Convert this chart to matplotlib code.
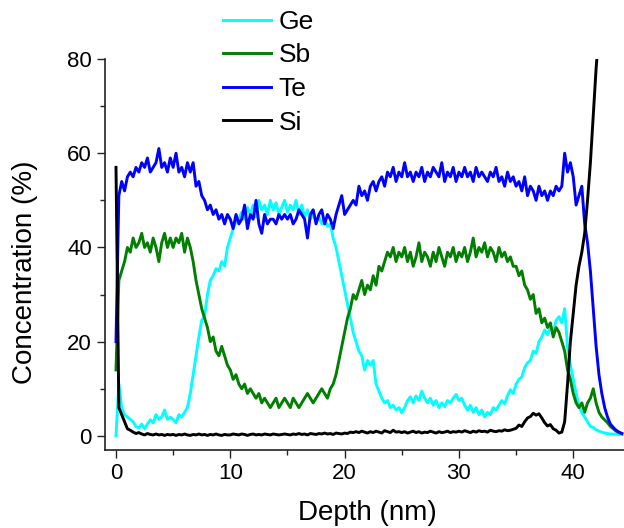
import numpy as np
import matplotlib
matplotlib.use('Agg')
import matplotlib.pyplot as plt
from matplotlib.ticker import MultipleLocator

plt.rcParams['font.family'] = ['Liberation Sans', 'DejaVu Sans']

# depth grid (nm), 0.25 nm steps
depth = np.arange(178) * 0.25

ge = [
    0, 11, 6, 4.5, 4, 3.5, 3, 2, 1.7, 2.5, 1.5, 2.5, 3.4, 2.8, 4.5, 3.5, 4, 5.5, 3.5, 4,
    3.5, 2.8, 4.5, 4, 5, 6, 9, 13, 17, 21, 24.5, 25.5, 30, 33, 34, 35.5, 35, 37, 36, 40,
    42, 44, 45.5, 46, 47.5, 46, 48.5, 47, 49, 46.5, 50, 48, 49, 47, 50, 48, 49.5, 47, 48.5, 50,
    47.5, 49, 48, 50, 47, 49, 46.5, 48, 46, 47.5, 45.5, 46.5, 45, 46, 44.5, 45, 42, 40, 37, 34,
    31, 28, 25, 22, 20, 18, 17, 14, 16, 15, 16, 11, 9.5, 8, 7, 7.5, 6, 6.5, 5.5, 6,
    4.9, 6, 7.5, 8.3, 7, 8.5, 7.5, 9.5, 8, 7, 8, 6.5, 7.5, 6, 7, 6.2, 7.5, 7, 8, 8.8,
    7.5, 8, 6.5, 5.5, 6.5, 5, 6, 4.5, 5.5, 4, 5, 4.5, 6, 5.5, 6.5, 7.5, 6.8, 8.5, 9.8, 9,
    11, 12, 12.5, 14.5, 15.5, 16, 18, 17.5, 20, 21, 22.5, 21.5, 23, 22, 24.5, 25.3, 24, 27, 19, 15,
    12, 9, 6.5, 4.9, 4, 3, 2, 1.8, 1.3, 1, 0.8, 0.6, 0.5, 0.4, 0.4, 0.3, 0.3, 0.3,
]

sb = [
    14, 33, 35, 37, 40, 39, 42, 40, 41, 43, 40, 41, 39, 42, 40, 37, 41, 43, 40, 42,
    40, 42, 41, 43, 39, 42, 40, 37, 33, 30, 27, 25, 23, 20, 21, 18, 17, 19, 17, 15,
    14, 12, 13, 11, 10, 11, 9, 10, 9, 8, 9, 7, 8, 7, 6, 7, 8, 6, 7, 8,
    7, 6, 8, 7, 6, 7, 8, 9, 8, 7, 8, 9, 10, 9, 8, 10, 11, 13, 16, 19,
    22, 25, 27, 30, 29, 31, 33, 30, 32, 31, 34, 32, 36, 35, 37, 39, 38, 40, 37, 39,
    38, 40, 37, 39, 36, 38, 41, 37, 39, 38, 36, 39, 37, 40, 38, 36, 39, 38, 40, 37,
    39, 38, 40, 37, 39, 42, 38, 40, 39, 41, 38, 40, 39, 37, 40, 38, 39, 37, 38, 36,
    36, 34, 35, 32, 31, 29, 30, 26, 27, 24, 25, 23, 24, 21, 23, 22, 20, 18, 14, 12,
    9, 7, 6, 7, 5, 7, 8, 10, 7, 5, 4, 3.4, 2.8, 2, 1.5, 1, 0.7, 0.5,
]

te = [
    20, 51, 54, 52, 55, 56, 55, 57, 56, 58, 57, 59, 56, 57, 58, 61, 57, 58, 56, 59,
    57, 60, 56, 57, 55, 58, 56, 58, 53, 54, 51, 50, 48, 49, 47, 48, 46, 47, 45, 47,
    46, 44, 47, 45, 46, 49, 44, 47, 46, 50, 45, 43, 47, 45, 46, 46, 45, 47, 46, 47,
    46, 47, 45, 46, 48, 47, 46, 42, 47, 48, 45, 47, 48, 45, 47, 46, 44, 47, 49, 51,
    47, 48, 49, 50, 49, 53, 51, 52, 50, 53, 54, 52, 54, 55, 53, 56, 55, 57, 54, 56,
    55, 58, 55, 56, 54, 56, 55, 57, 54, 56, 55, 57, 56, 55, 58, 54, 56, 55, 57, 54,
    56, 55, 57, 55, 56, 54, 57, 55, 56, 55, 54, 56, 55, 57, 54, 55, 53, 56, 54, 55,
    53, 54, 52, 55, 51, 53, 52, 50, 53, 51, 52, 50, 52, 51, 53, 52, 53, 60, 56, 58,
    55, 49, 51, 53, 45, 41, 35, 27, 19, 13, 9, 6, 4, 2.5, 1.8, 1.2, 0.8, 0.5,
]

si = [
    57, 6, 4.5, 3, 1.5, 1.2, 0.8, 0.5, 0.7, 0.4, 0.2, 0.5, 0.3, 0.2, 0.4, 0.2, 0.3, 0.1, 0.3, 0.2,
    0.3, 0.1, 0.3, 0.2, 0.4, 0.2, 0.1, 0.3, 0.2, 0.4, 0.2, 0.3, 0.1, 0.3, 0.2, 0.4, 0.2, 0.1, 0.3, 0.2,
    0.2, 0.4, 0.3, 0.2, 0.4, 0.3, 0.1, 0.3, 0.4, 0.2, 0.3, 0.2, 0.4, 0.3, 0.2, 0.4, 0.3, 0.2, 0.3, 0.4,
    0.3, 0.2, 0.4, 0.3, 0.5, 0.3, 0.4, 0.2, 0.5, 0.4, 0.3, 0.5, 0.4, 0.6, 0.4, 0.5, 0.3, 0.6, 0.5, 0.4,
    0.6, 0.5, 0.8, 0.7, 0.9, 0.7, 1.0, 0.8, 0.6, 0.9, 0.7, 1.0, 0.8, 0.6, 1.1, 0.9, 0.7, 1.2, 0.8, 0.9,
    0.7, 0.9, 0.6, 0.8, 1.0, 0.7, 0.9, 0.6, 0.8, 0.7, 1.0, 0.8, 0.6, 0.9, 0.7, 0.8, 1.0, 0.7, 0.9, 0.8,
    1.0, 0.8, 1.1, 0.9, 0.7, 1.0, 0.8, 1.1, 0.9, 1.0, 0.8, 1.2, 1.0, 0.9, 1.1, 1.0, 1.3, 1.1, 1.2, 1.4,
    1.6, 2.3, 2.0, 3.0, 3.8, 4.1, 4.8, 4.4, 4.7, 3.8, 2.8, 2.1, 2.4, 1.5, 1.2, 0.6, 0.8, 3.0, 11, 20,
    26, 32, 36, 39, 43, 50, 58, 68, 78, 86, 92, 97, 102, 107, 112, 117, 122, 127,
]

series = [('Ge', ge, '#00FFFF'), ('Sb', sb, '#007F00'),
          ('Te', te, '#0000FF'), ('Si', si, '#000000')]

fig = plt.figure(figsize=(6.24, 5.28), dpi=100)
ax = fig.add_axes([0.1683, 0.1477, 0.8317, 0.7405])

for name, vals, col in series:
    ax.plot(depth, vals, color=col, lw=2.1, label=name)

ax.set_xlim(-0.96, 44.44)
ax.set_ylim(-3, 80)
ax.xaxis.set_major_locator(MultipleLocator(10))
ax.xaxis.set_minor_locator(MultipleLocator(5))
ax.yaxis.set_major_locator(MultipleLocator(20))
ax.yaxis.set_minor_locator(MultipleLocator(10))

for s in ['top', 'right']:
    ax.spines[s].set_visible(False)
for s in ['left', 'bottom']:
    ax.spines[s].set_linewidth(1.2)
    ax.spines[s].set_color('#222222')

ax.tick_params(which='major', direction='out', length=6, width=1.0, labelsize=16, color='#222222')
ax.tick_params(which='minor', direction='out', length=3.5, width=1.0, color='#222222')

ax.set_xlabel('Depth (nm)', fontsize=20)
ax.set_ylabel('Concentration (%)', fontsize=20)
ax.xaxis.set_label_coords(0.506, -0.128)
ax.yaxis.set_label_coords(-0.129, 0.455)

fig.legend(loc='upper left', bbox_to_anchor=(223 / 624, 1 - 10 / 528),
           frameon=False, fontsize=19, handlelength=1.8, handletextpad=0.3,
           labelspacing=0.36, borderpad=0, borderaxespad=0)

fig.savefig('out.png', dpi=100)
